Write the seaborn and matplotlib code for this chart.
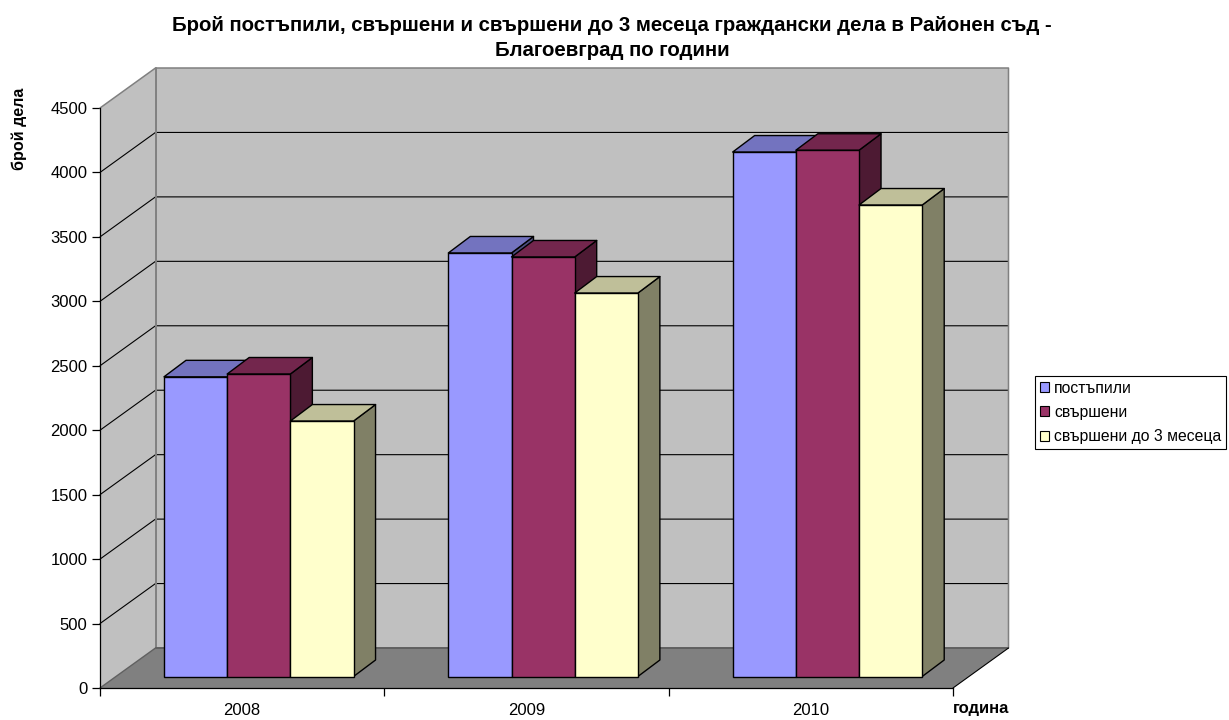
import matplotlib
matplotlib.use("Agg")
import matplotlib.pyplot as plt
from matplotlib.patches import Polygon, Patch
from matplotlib.colors import to_rgb
import pandas as pd
import seaborn as sns

years = ["2008", "2009", "2010"]
series_names = ["постъпили", "свършени", "свършени до 3 месеца"]
received = [2325, 3286, 4069]
completed = [2347, 3255, 4083]
completed_3m = [1982, 2975, 3658]
colors = ["#9999FF", "#993366", "#FFFFCC"]
yticks = list(range(0, 5000, 500))

W, H = 1229, 720
sns.set_theme(style="white")
plt.rcParams["font.family"] = ["Liberation Sans", "DejaVu Sans"]

df = pd.DataFrame({
    "year": years * 3,
    "series": [s for s in series_names for _ in years],
    "count": received + completed + completed_3m,
})

fig = plt.figure(figsize=(W / 100, H / 100), dpi=100, facecolor="white")


def axes_px(x0, y_top, x1, y_bottom, **kw):
    return fig.add_axes([x0 / W, 1 - y_bottom / H, (x1 - x0) / W, (y_bottom - y_top) / H], **kw)


# front plane: carries the value and category scale
ax = axes_px(100, 108, 953, 688, zorder=1)
ax.set_xlim(-0.5, 2.5)
ax.set_ylim(0, 4500)
ax.patch.set_visible(False)
cat_px = 853 / 3
val_px = 580 / 4500
wall_dx = 55.5 / cat_px
wall_dy = 40 / val_px
x0, x1 = -0.5, 2.5
top = 4500
wall_col = "#C0C0C0"
edge_col = "#808080"

ax.add_patch(Polygon([(x0, 0), (x0 + wall_dx, wall_dy), (x0 + wall_dx, top + wall_dy), (x0, top)],
                     fc=wall_col, ec="none", clip_on=False, zorder=0.5))
ax.add_patch(Polygon([(x0 + wall_dx, wall_dy), (x1 + wall_dx, wall_dy), (x1 + wall_dx, top + wall_dy), (x0 + wall_dx, top + wall_dy)],
                     fc=wall_col, ec="none", clip_on=False, zorder=0.5))
ax.add_patch(Polygon([(x0, 0), (x1, 0), (x1 + wall_dx, wall_dy), (x0 + wall_dx, wall_dy)],
                     fc=edge_col, ec="none", clip_on=False, zorder=0.6))
for v in yticks[1:-1]:
    ax.plot([x0, x0 + wall_dx, x1 + wall_dx], [v, v + wall_dy, v + wall_dy],
            color="black", lw=0.8, clip_on=False, zorder=0.8)
ax.plot([x0, x0 + wall_dx, x1 + wall_dx, x1 + wall_dx],
        [top, top + wall_dy, top + wall_dy, wall_dy], color=edge_col, lw=1.1, clip_on=False, zorder=0.9)
ax.plot([x0 + wall_dx, x0 + wall_dx], [wall_dy, top + wall_dy], color=edge_col, lw=1.4, clip_on=False, zorder=0.9)
ax.plot([x0 + wall_dx, x1 + wall_dx], [wall_dy, wall_dy], color="#606060", lw=1.4, clip_on=False, zorder=0.9)
ax.plot([x0, x0 + wall_dx], [0, wall_dy], color="#606060", lw=1.0, clip_on=False, zorder=0.9)
ax.plot([x1, x1 + wall_dx], [0, wall_dy], color="black", lw=0.8, clip_on=False, zorder=0.9)

for s in ("top", "right"):
    ax.spines[s].set_visible(False)
for s in ("left", "bottom"):
    ax.spines[s].set_color("black")
    ax.spines[s].set_linewidth(0.9)
ax.set_yticks(yticks)
ax.set_xticks([-0.5, 0.5, 1.5, 2.5], labels=[])
ax.set_xticks([0, 1, 2], labels=years, minor=True)
ax.tick_params(axis="y", which="major", left=True, length=6, width=0.9, color="black",
               labelsize=12, labelcolor="black", pad=3)
ax.tick_params(axis="x", which="major", bottom=True, length=5.5, width=0.9, color="black")
ax.tick_params(axis="x", which="minor", bottom=False, labelsize=12, labelcolor="black", pad=7)

# bar plane: the bars stand part-way into the chart's depth
bx = axes_px(116.6, 96.5, 969.6, 676.5, zorder=2)
bx.patch.set_visible(False)
sns.barplot(data=df, x="year", y="count", hue="series", hue_order=series_names, order=years,
            palette=colors, saturation=1, width=2 / 3, gap=0, dodge=True, legend=False,
            edgecolor="black", linewidth=1.0, ax=bx)
bx.set_xlim(-0.5, 2.5)
bx.set_ylim(0, 4500)
bx.set_axis_off()

bar_dx = 22 / cat_px
bar_dy = 16.5 / val_px
for i, container in enumerate(bx.containers):
    rgb = to_rgb(colors[i])
    for j, bar in enumerate(container):
        l, w, h = bar.get_x(), bar.get_width(), bar.get_height()
        z = 3 + j * 10 + i * 3
        bx.add_patch(Polygon([(l + w, 0), (l + w + bar_dx, bar_dy), (l + w + bar_dx, h + bar_dy), (l + w, h)],
                             fc=[c * 0.5 for c in rgb], ec="black", lw=1.0, clip_on=False, zorder=z,
                             joinstyle="round"))
        bx.add_patch(Polygon([(l, h), (l + bar_dx, h + bar_dy), (l + w + bar_dx, h + bar_dy), (l + w, h)],
                             fc=[c * 0.75 for c in rgb], ec="black", lw=1.0, clip_on=False, zorder=z + 1,
                             joinstyle="round"))
        bar.set_zorder(z + 2)
        bar.set_clip_on(False)

fig.text(612 / W, 1 - 38 / H,
         "Брой постъпили, свършени и свършени до 3 месеца граждански дела в Районен съд -\nБлагоевград по години",
         ha="center", va="center", fontsize=14.65, fontweight="bold", color="black", linespacing=1.35)
fig.text(19 / W, 1 - 129 / H, "брой дела", rotation=90, ha="center", va="center",
         fontsize=11.6, fontweight="bold", color="black")
fig.text(981 / W, 1 - 708.5 / H, "година", ha="center", va="center",
         fontsize=12, fontweight="bold", color="black")

handles = [Patch(facecolor=c, edgecolor="black", linewidth=0.8, label=n) for c, n in zip(colors, series_names)]
leg = fig.legend(handles=handles, loc="upper left", bbox_to_anchor=(1034.5 / W, 1 - 375.5 / H),
                 bbox_transform=fig.transFigure, frameon=True, fancybox=False, framealpha=1,
                 edgecolor="black", facecolor="white", fontsize=11.3, handlelength=0.62, handleheight=0.62,
                 handletextpad=0.3, labelspacing=0.6, borderpad=0.32, borderaxespad=0, labelcolor="black")
leg.get_frame().set_linewidth(0.8)

fig.savefig("out.png", dpi=100)
